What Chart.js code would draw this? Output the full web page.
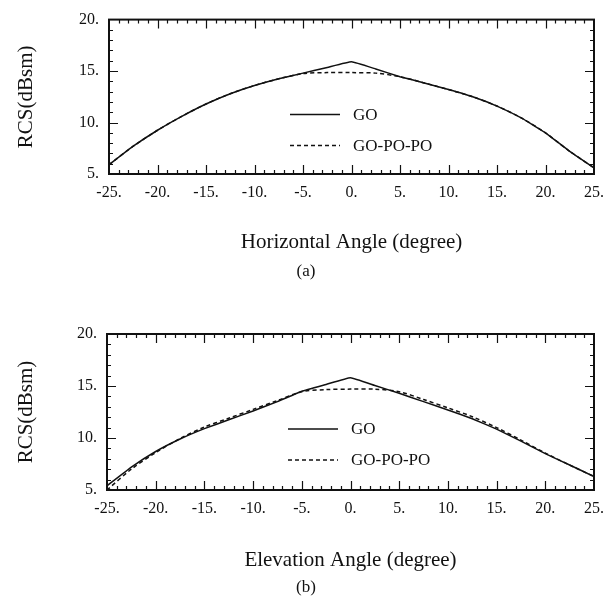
<!DOCTYPE html>
<html>
<head>
<meta charset="utf-8">
<script src="https://cdn.jsdelivr.net/npm/chart.js@4.4.1/dist/chart.umd.min.js"></script>
<style>
  html, body { margin: 0; padding: 0; background: #fff; }
  body { width: 613px; height: 613px; position: relative; overflow: hidden; font-family: "Liberation Serif", serif; }
  .box { position: absolute; left: 0; width: 613px; }
  .cap { position: absolute; font-size: 17px; color: #111; transform: translate(-50%, -50%); white-space: nowrap; }
</style>
</head>
<body>
<div class="box" style="top:0;height:300px"><canvas id="chartA" width="613" height="300"></canvas></div>
<div class="box" style="top:300px;height:313px"><canvas id="chartB" width="613" height="313"></canvas></div>
<div class="cap" style="left:306px;top:271px">(a)</div>
<div class="cap" style="left:306px;top:587px">(b)</div>
<script>
// angle samples (degree)
const angles = [-25, -22.5, -20, -17.5, -15, -12.5, -10, -7.5, -5, -2.5, 0, 2.5, 5, 7.5, 10, 12.5, 15, 17.5, 20, 22.5, 25];

// (a) horizontal cut, RCS in dBsm
const goHorizontal = [5.9, 7.7, 9.25, 10.6, 11.8, 12.8, 13.6, 14.25, 14.8, 15.35, 15.9, 15.2, 14.45, 13.85, 13.2, 12.5, 11.6, 10.45, 9.0, 7.2, 5.6];
const gpHorizontal = [5.9, 7.7, 9.25, 10.6, 11.8, 12.8, 13.6, 14.25, 14.75, 14.85, 14.85, 14.8, 14.45, 13.85, 13.2, 12.5, 11.6, 10.45, 9.0, 7.2, 5.6];

// (b) elevation cut
const goElevation = [5.4, 7.2, 8.7, 9.9, 10.9, 11.75, 12.6, 13.5, 14.5, 15.15, 15.8, 15.05, 14.3, 13.5, 12.7, 11.85, 10.85, 9.7, 8.5, 7.4, 6.3];
const gpElevation = [5.0, 7.0, 8.6, 9.95, 11.05, 11.9, 12.75, 13.6, 14.45, 14.65, 14.7, 14.7, 14.45, 13.7, 12.9, 12.05, 11.0, 9.8, 8.55, 7.4, 6.3];

const seriesNames = ['GO', 'GO-PO-PO'];
const xTicks = [-25, -20, -15, -10, -5, 0, 5, 10, 15, 20, 25];
const yTicks = [5, 10, 15, 20];

const FONT = '"Liberation Serif", "Times New Roman", serif';
const INK = '#111';

// inward ticks, frame and inline legend
const framePlugin = {
    id: 'frame',
    afterDatasetsDraw(chart) {
        const {ctx, chartArea: ca, scales: {x, y}} = chart;
        ctx.save();
        ctx.strokeStyle = INK;
        ctx.lineWidth = 1.2;
        ctx.beginPath();
        for (let v = -24; v <= 24; v++) {
            const px = Math.round(x.getPixelForValue(v)) + 0.5;
            const len = v % 5 === 0 ? 9 : 4;
            ctx.moveTo(px, ca.bottom); ctx.lineTo(px, ca.bottom - len);
            ctx.moveTo(px, ca.top); ctx.lineTo(px, ca.top + len);
        }
        for (let v = 6; v <= 19; v++) {
            const py = Math.round(y.getPixelForValue(v)) + 0.5;
            const len = v % 5 === 0 ? 9 : 4;
            ctx.moveTo(ca.left, py); ctx.lineTo(ca.left + len, py);
            ctx.moveTo(ca.right, py); ctx.lineTo(ca.right - len, py);
        }
        ctx.stroke();

        ctx.lineWidth = 2;
        ctx.strokeRect(ca.left, ca.top, ca.right - ca.left, ca.bottom - ca.top);

        // legend
        ctx.font = '17px ' + FONT;
        ctx.fillStyle = INK;
        ctx.textBaseline = 'middle';
        chart.data.datasets.forEach((ds, i) => {
            const lx = ca.left + 181;
            const ly = ca.top + 95 + i * 31;
            ctx.lineWidth = 1.5;
            ctx.setLineDash(ds.borderDash || []);
            ctx.beginPath();
            ctx.moveTo(lx, ly); ctx.lineTo(lx + 50, ly);
            ctx.stroke();
            ctx.setLineDash([]);
            ctx.fillText(ds.label, lx + 63, ly + 1);
        });
        ctx.restore();
    }
};

function makeChart(id, go, gp, xTitle, box) {
    const ctx = document.getElementById(id);
    new Chart(ctx, {
        type: 'line',
        data: {
            datasets: [{
                label: seriesNames[0],
                data: angles.map((a, i) => ({x: a, y: go[i]})),
                borderColor: INK,
                borderWidth: 1.5,
                pointRadius: 0,
                tension: 0.1
            }, {
                label: seriesNames[1],
                data: angles.map((a, i) => ({x: a, y: gp[i]})),
                borderColor: INK,
                borderWidth: 1.5,
                borderDash: [4, 3],
                pointRadius: 0,
                tension: 0.3
            }]
        },
        options: {
            responsive: false,
            animation: false,
            layout: {padding: {left: 0, right: box.right, top: box.top, bottom: 0}},
            plugins: {legend: {display: false}, tooltip: {enabled: false}},
            scales: {
                x: {
                    type: 'linear',
                    min: -25,
                    max: 25,
                    afterBuildTicks: s => { s.ticks = xTicks.map(v => ({value: v})); },
                    afterFit: s => { s.height = box.xHeight; },
                    ticks: {
                        callback: v => v + '.',
                        font: {family: FONT, size: 16},
                        color: INK,
                        padding: 9,
                        maxRotation: 0,
                        autoSkip: false
                    },
                    grid: {display: false, drawTicks: false},
                    border: {display: false},
                    title: {
                        display: true,
                        text: xTitle,
                        font: {family: FONT, size: 21},
                        color: INK,
                        padding: {top: 0, bottom: box.titlePad}
                    }
                },
                y: {
                    min: 5,
                    max: 20,
                    afterBuildTicks: s => { s.ticks = yTicks.map(v => ({value: v})); },
                    afterFit: s => { s.width = box.left; },
                    ticks: {
                        callback: v => v + '.',
                        font: {family: FONT, size: 16},
                        color: INK,
                        padding: 10
                    },
                    grid: {display: false, drawTicks: false},
                    border: {display: false},
                    title: {
                        display: true,
                        text: 'RCS(dBsm)',
                        font: {family: FONT, size: 21},
                        color: INK,
                        padding: {top: 14, bottom: 0}
                    }
                }
            }
        },
        plugins: [framePlugin]
    });
}

makeChart('chartA', goHorizontal, gpHorizontal, 'Horizontal Angle (degree)',
    {left: 109, right: 17, top: 16, xHeight: 126, titlePad: 45});
makeChart('chartB', goElevation, gpElevation, 'Elevation Angle (degree)',
    {left: 107, right: 18, top: 34, xHeight: 123, titlePad: 40});
</script>
</body>
</html>
